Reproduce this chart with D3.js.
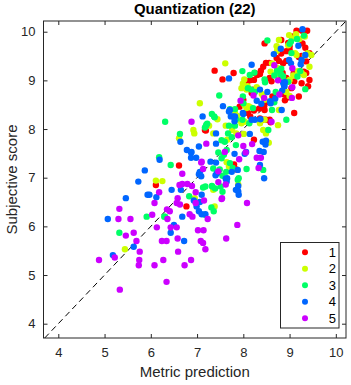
<!DOCTYPE html>
<html>
<head>
<meta charset="utf-8">
<script src="https://cdn.jsdelivr.net/npm/d3@7"></script>
<style>
  body { margin: 0; background: #fff; }
  svg { display: block; font-family: Arial, "Liberation Sans", Helvetica, sans-serif; }
  .axis text { fill: #262626; font-size: 13px; }
</style>
</head>
<body>
<div id="chart"></div>
<script>
const xTicks = [4, 5, 6, 7, 8, 9, 10];
const yTicks = [4, 5, 6, 7, 8, 9, 10];
const legendLabels = ["1", "2", "3", "4", "5"];
const colors = ["#ff0000", "#ccff00", "#00ff66", "#0066ff", "#cc00ff"];

// [metric prediction, subjective score]
const class1 = [
  [7.38,9.20],[7.55,9.02],[7.79,9.15],[8.46,9.76],[9.27,10.02],[9.38,10.02],[9.15,10.02],[9.05,9.90],
  [8.49,9.36],[8.56,9.36],[8.43,9.28],[8.38,9.20],[8.25,9.15],[8.30,9.11],[8.14,9.00],[8.23,9.01],
  [8.07,8.94],[8.10,8.84],[8.18,8.74],[8.21,8.81],[8.86,9.35],[9.31,9.18],[9.36,9.15],[9.43,9.56],
  [9.20,9.48],[9.26,9.50],[8.90,8.59],[8.63,8.67],[8.66,8.60],[8.46,8.39],[8.57,8.19],[8.49,8.19],
  [9.10,8.33],[8.96,8.65],[8.85,9.15],[8.72,9.46],[8.97,9.77],[9.00,9.63],[9.28,9.76],[9.34,9.67],
  [9.09,9.15],[9.20,8.67],[9.40,8.88],[9.43,9.01],[8.82,9.83],[8.93,9.60],[9.00,9.70],[8.36,9.13],
  [8.82,9.55],[8.77,9.40],[8.93,9.40],[9.36,9.39],[8.82,9.08],[8.93,9.05],[9.10,8.98],[9.26,8.94],
  [8.57,9.05],[8.61,8.98],[8.88,8.81],[9.04,8.84],[8.45,8.47],[8.34,8.42],[8.00,8.60],[7.92,8.46],
  [8.86,8.72],[8.10,8.33],[8.15,8.26],[8.23,8.38],[8.43,8.50],[8.51,8.55],[8.36,8.22],[8.43,8.19],
  [8.59,8.14],[7.17,7.98],[8.23,7.78],[7.19,7.97],[6.61,7.25],[6.11,6.85],[6.77,6.41],[7.80,7.27],
  [7.85,7.17]
];
const class2 = [
  [7.06,8.53],[7.61,9.35],[8.02,9.02],[7.26,8.07],[7.44,8.20],[7.89,8.19],[8.11,8.47],[8.07,8.43],
  [8.09,8.88],[8.07,8.81],[8.29,8.86],[8.40,8.72],[8.77,8.39],[8.72,9.70],[8.73,9.61],[8.99,9.93],
  [9.06,9.86],[9.21,9.85],[9.12,9.56],[8.97,8.98],[9.00,9.01],[8.71,9.11],[9.43,9.28],[9.47,9.52],
  [8.36,8.12],[8.46,8.19],[8.59,9.18],[9.14,9.95],[8.77,9.83],[9.33,9.90],[8.97,9.72],[9.15,9.52],
  [9.33,9.51],[8.62,9.35],[8.43,8.68],[8.46,8.60],[7.99,8.93],[7.96,8.84],[9.18,9.19],[9.26,9.15],
  [8.93,8.76],[9.00,8.68],[9.31,9.11],[8.73,9.26],[9.08,9.10],[9.39,9.56],[8.03,8.49],[8.15,8.45],
  [7.82,8.33],[7.87,8.27],[7.96,8.12],[8.03,8.15],[7.62,8.07],[8.75,8.08],[7.76,7.98],[7.85,7.91],
  [8.43,7.98],[8.49,7.91],[8.01,7.90],[7.65,7.78],[6.92,7.98],[6.94,7.91],[6.61,7.81],[7.35,7.91],
  [7.64,7.32],[7.69,7.23],[6.11,6.94],[6.25,6.93],[7.38,6.41],[7.89,6.86],[7.35,6.75],[6.95,6.58],
  [5.44,5.53],[8.55,7.72]
];
const class3 = [
  [6.31,8.15],[7.48,8.69],[7.98,9.19],[8.46,9.02],[8.52,9.82],[7.37,8.26],[7.71,8.41],[7.82,8.41],
  [7.84,8.20],[7.69,8.07],[7.98,8.19],[8.13,8.12],[8.21,8.43],[8.62,8.39],[8.93,8.19],[8.67,8.55],
  [8.80,9.13],[8.86,9.08],[9.34,8.82],[9.31,9.92],[9.03,9.80],[9.23,9.19],[9.17,9.08],[9.00,9.75],
  [8.14,9.11],[8.24,9.16],[8.67,9.10],[8.73,9.20],[8.82,9.24],[8.82,9.12],[8.97,8.97],[8.47,8.96],
  [8.25,8.76],[8.70,8.76],[7.99,8.67],[8.10,8.84],[8.17,8.81],[9.04,9.56],[9.16,9.85],[8.00,8.53],
  [7.32,8.31],[7.38,8.24],[7.19,8.06],[7.22,8.11],[7.82,8.07],[7.67,7.91],[7.75,7.83],[7.53,7.77],
  [7.60,7.74],[7.84,7.67],[7.53,7.40],[7.35,7.19],[8.07,7.18],[7.88,6.96],[8.54,7.98],[6.63,7.90],
  [6.18,7.42],[6.43,7.26],[7.20,8.09],[7.17,8.03],[7.46,7.52],[7.64,7.57],[7.77,7.20],[7.90,6.99],
  [7.63,7.12],[7.49,7.17],[7.32,6.83],[7.39,6.78],[7.13,6.80],[7.55,6.71],[8.43,7.16],[6.31,6.20],
  [6.83,6.62],[7.36,6.31],[7.17,6.24],[7.31,6.39],[5.32,5.87],[5.91,6.20],[6.29,6.20],[7.18,6.82],
  [7.33,6.82],[7.51,6.82],[7.55,7.04],[7.58,7.47],[7.71,7.30]
];
const class4 = [
  [5.07,6.15],[5.18,5.41],[5.46,6.58],[5.63,5.58],[5.73,6.92],[5.93,6.65],[6.45,6.75],[6.50,6.03],
  [6.43,5.87],[6.72,5.70],[6.68,6.20],[6.65,6.75],[6.93,6.53],[6.99,6.41],[7.04,6.31],[7.10,6.25],
  [7.18,6.25],[7.10,6.65],[7.64,6.92],[7.87,6.75],[7.90,6.65],[5.87,7.15],[6.19,7.37],[6.64,7.74],
  [6.78,7.57],[6.87,7.52],[6.87,7.41],[6.98,7.41],[7.04,7.64],[7.04,7.07],[7.09,7.03],[7.41,7.31],
  [7.43,7.09],[7.65,6.99],[7.81,7.49],[8.03,7.49],[7.84,6.75],[7.12,8.26],[7.41,7.91],[6.88,7.53],
  [7.41,7.70],[8.06,7.53],[8.14,7.90],[7.73,8.26],[7.82,8.26],[7.71,8.39],[8.18,8.19],[8.25,8.19],
  [8.37,8.20],[8.42,7.74],[8.48,7.68],[8.49,7.76],[8.36,7.26],[8.45,6.99],[8.83,8.39],[6.12,6.60],
  [5.97,6.65],[7.06,6.50],[7.89,6.83],[7.89,6.72],[7.75,7.12],[7.40,7.05],[7.06,7.12],[7.29,7.33],
  [7.56,8.47],[7.69,9.04],[8.18,9.32],[8.29,8.58],[7.99,8.33],[8.52,8.76],[8.58,8.57],[8.88,8.90],
  [8.90,8.96],[8.99,9.42],[9.03,9.35],[8.66,9.54],[8.81,9.65],[9.19,9.71],[9.26,9.42],[9.24,9.33],
  [9.34,9.52],[8.86,8.95],[8.89,8.88],[8.84,8.79],[8.69,8.63],[8.36,8.81],[9.28,10.05],[8.59,8.53],
  [8.39,8.52],[7.69,8.36],[7.78,8.26],[7.81,8.16],[8.00,8.31],[8.35,7.55],[8.44,7.53],[7.88,7.16],
  [7.62,6.98]
];
const class5 = [
  [4.88,5.31],[5.22,5.36],[5.33,4.70],[5.32,6.36],[5.30,6.15],[5.56,6.15],[5.46,5.81],[5.63,5.87],
  [5.69,5.70],[5.76,5.48],[5.75,5.31],[5.74,5.20],[6.08,5.20],[6.27,5.31],[6.34,4.86],[6.13,5.98],
  [6.03,6.24],[6.08,6.48],[6.18,6.70],[6.24,5.70],[6.34,5.70],[6.41,6.31],[6.36,6.15],[6.43,5.98],
  [6.56,5.98],[6.58,5.75],[6.59,5.48],[6.73,5.20],[6.87,5.31],[6.56,6.48],[6.58,6.58],[6.68,6.87],
  [6.79,6.87],[6.89,6.83],[6.84,6.25],[6.90,6.20],[7.02,5.92],[7.14,5.92],[7.08,5.70],[7.13,5.66],
  [7.18,5.53],[7.23,6.15],[6.97,6.70],[7.15,6.53],[6.97,6.48],[7.54,6.58],[7.62,6.86],[7.87,6.03],
  [7.63,5.75],[8.08,6.48],[6.68,7.08],[7.09,7.31],[7.13,7.18],[7.46,6.91],[7.53,6.56],[8.05,7.52],
  [6.62,6.85],[6.35,6.35],[6.63,6.45],[6.88,8.15],[7.20,7.70],[7.60,7.53],[7.89,7.87],[8.00,7.65],
  [8.19,7.69],[7.91,7.38],[8.29,7.41],[8.38,7.41],[8.33,7.20],[8.61,8.15],[7.94,8.58],[8.22,8.69],
  [8.45,8.64],[8.67,9.31],[8.75,9.00],[9.06,9.25],[9.06,8.86],[9.05,8.64],[8.78,8.71],[7.46,7.13],
  [7.10,7.33]
];
const series = [class1, class2, class3, class4, class5];

const W = 351, H = 385;
const margin = { top: 21, right: 5, bottom: 47, left: 43.5 };
const width = W - margin.left - margin.right;
const height = H - margin.top - margin.bottom;
const xDomain = [3.68, 10.22], yDomain = [3.706, 10.22];
const ink = "#262626";

const svg = d3.select("#chart").append("svg")
  .attr("width", W)
  .attr("height", H);

const g = svg.append("g")
  .attr("transform", `translate(${margin.left},${margin.top})`);

const x = d3.scaleLinear().domain(xDomain).range([0, width]);
const y = d3.scaleLinear().domain(yDomain).range([height, 0]);

g.append("clipPath").attr("id", "clip")
  .append("rect").attr("width", width).attr("height", height);

// diagonal y = x
const lo = Math.max(xDomain[0], yDomain[0]), hi = Math.min(xDomain[1], yDomain[1]);
g.append("line")
  .attr("clip-path", "url(#clip)")
  .attr("x1", x(lo)).attr("y1", y(lo))
  .attr("x2", x(hi)).attr("y2", y(hi))
  .attr("stroke", "#000")
  .attr("stroke-width", 1)
  .attr("stroke-dasharray", "6,4");

// points, class 1 first
series.forEach((pts, i) => {
  g.append("g")
    .attr("clip-path", "url(#clip)")
    .selectAll("circle")
    .data(pts)
    .enter()
    .append("circle")
    .attr("cx", d => x(d[0]))
    .attr("cy", d => y(d[1]))
    .attr("r", 3.2)
    .attr("fill", colors[i]);
});

// axes with inward ticks on all sides
const tl = 4;
const fmt = d3.format("d");
g.append("g").attr("class", "axis")
  .attr("transform", `translate(0,${height})`)
  .call(d3.axisBottom(x).tickValues(xTicks).tickFormat(fmt).tickSizeInner(-tl).tickSizeOuter(0).tickPadding(10));
g.append("g").attr("class", "axis")
  .call(d3.axisTop(x).tickValues(xTicks).tickSizeInner(-tl).tickSizeOuter(0).tickFormat(""));
g.append("g").attr("class", "axis")
  .call(d3.axisLeft(y).tickValues(yTicks).tickFormat(fmt).tickSizeInner(-tl).tickSizeOuter(0).tickPadding(8));
g.append("g").attr("class", "axis")
  .attr("transform", `translate(${width},0)`)
  .call(d3.axisRight(y).tickValues(yTicks).tickSizeInner(-tl).tickSizeOuter(0).tickFormat(""));

g.selectAll(".axis .domain").remove();
g.selectAll(".axis line").attr("stroke", ink);

g.append("rect")
  .attr("width", width).attr("height", height)
  .attr("fill", "none")
  .attr("stroke", ink)
  .attr("stroke-width", 1);

// title and labels
svg.append("text")
  .attr("x", margin.left + width / 2)
  .attr("y", 13.5)
  .attr("text-anchor", "middle")
  .attr("font-size", "15px")
  .attr("font-weight", "bold")
  .attr("fill", "#000")
  .text("Quantization (22)");

svg.append("text")
  .attr("x", margin.left + width / 2)
  .attr("y", 377)
  .attr("text-anchor", "middle")
  .attr("font-size", "15px")
  .attr("fill", ink)
  .text("Metric prediction");

svg.append("text")
  .attr("transform", `translate(17,${margin.top + height / 2}) rotate(-90)`)
  .attr("text-anchor", "middle")
  .attr("font-size", "15px")
  .attr("fill", ink)
  .text("Subjective score");

// legend
const lg = svg.append("g");
lg.append("rect")
  .attr("x", 280.5).attr("y", 242.5)
  .attr("width", 58.5).attr("height", 85.5)
  .attr("fill", "#fff")
  .attr("stroke", ink)
  .attr("stroke-width", 1);

legendLabels.forEach((lab, i) => {
  const cy = 252.3 + i * 16.5;
  lg.append("circle")
    .attr("cx", 305).attr("cy", cy).attr("r", 3)
    .attr("fill", colors[i]);
  lg.append("text")
    .attr("x", 336).attr("y", cy)
    .attr("dy", "0.35em")
    .attr("text-anchor", "end")
    .attr("font-size", "13px")
    .attr("fill", "#000")
    .text(lab);
});
</script>
</body>
</html>
